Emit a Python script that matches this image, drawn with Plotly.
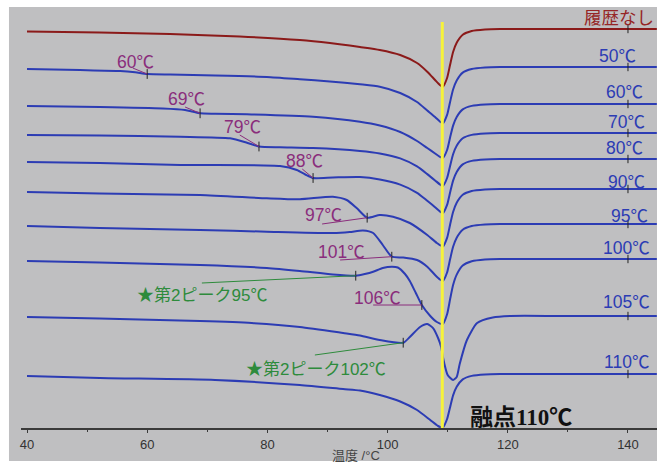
import plotly.graph_objects as go

# ---------------- data (temperature in °C, signal in arbitrary offset units; larger = lower on chart) ----------------
RISE_T = [109.9, 110.4, 110.9, 111.5, 112.5, 114.0, 116.2, 118.7, 128.7, 140.0, 144.8]

red_T = [40.0, 52.1, 63.8, 75.4, 85.4, 90.4, 93.7, 95.4, 98.7, 102.1, 104.9, 106.6, 107.9, 108.7, 109.2] + RISE_T
red_y = [31.5, 32.5, 34.0, 36.5, 40.0, 43.0, 45.5, 47.0, 50.0, 55.0, 63.0, 71.7, 80.0, 85.0, 86.7,
         78.0, 64.8, 52.0, 42.8, 34.8, 31.0, 29.5, 29.0, 29.0, 29.0, 29.0]

c50_T = [40.0, 48.8, 55.5, 58.0, 60.0, 63.8, 71.3, 79.9, 85.4, 90.4, 95.4, 98.7, 102.1, 104.9, 106.6, 107.9, 108.7, 109.2] + RISE_T
c50_y = [69.0, 70.0, 71.0, 72.3, 74.0, 74.6, 75.5, 77.0, 79.3, 81.5, 84.3, 86.7, 93.0, 102.0, 110.5, 117.0, 121.5, 123.3,
         114.9, 101.9, 89.5, 80.5, 72.6, 69.0, 67.5, 67.0, 67.0, 67.0, 67.0]

c60_T = [40.0, 52.1, 62.6, 66.3, 67.5, 68.8, 71.3, 76.6, 87.6, 95.4, 98.7, 102.1, 104.9, 106.6, 107.9, 108.7, 109.2] + RISE_T
c60_y = [106.0, 107.0, 108.5, 110.0, 111.5, 113.3, 113.7, 114.3, 116.7, 121.7, 125.5, 132.0, 141.0, 148.0, 153.5, 156.8, 158.0,
         150.0, 137.5, 125.6, 117.0, 109.4, 105.9, 104.4, 104.0, 104.0, 104.0, 104.0]

c70_T = [40.0, 52.1, 65.5, 73.8, 76.6, 78.6, 82.1, 87.6, 95.4, 98.7, 102.1, 104.9, 106.6, 107.9, 108.7, 109.2] + RISE_T
c70_y = [135.0, 135.5, 136.7, 138.3, 142.7, 146.5, 147.3, 148.0, 151.0, 153.5, 158.4, 166.4, 174.1, 180.4, 184.4, 186.0,
         178.0, 165.9, 154.2, 145.7, 138.3, 134.9, 133.4, 133.0, 133.0, 133.0, 133.0]

c80_T = [40.0, 52.1, 65.5, 82.1, 84.9, 86.3, 87.6, 90.9, 95.4, 98.7, 102.1, 104.9, 106.6, 107.9, 108.7, 109.2] + RISE_T
c80_y = [162.0, 163.0, 165.0, 166.0, 170.0, 174.5, 178.0, 177.5, 177.0, 179.5, 184.6, 192.8, 200.8, 207.2, 211.4, 213.0,
         204.9, 192.5, 180.6, 172.0, 164.4, 160.9, 159.4, 159.0, 159.0, 159.0, 159.0]

c90_T = [40.0, 52.1, 68.8, 79.9, 85.4, 90.9, 93.2, 94.9, 96.6, 98.7, 100.9, 103.7, 106.6, 108.2, 109.2] + RISE_T
c90_y = [192.0, 193.5, 195.0, 198.3, 199.3, 196.7, 200.0, 208.3, 217.7, 215.0, 216.7, 223.0, 235.0, 243.0, 246.5,
         237.9, 224.7, 212.0, 202.8, 194.8, 191.0, 189.5, 189.0, 189.0, 189.0, 189.0]

c95_T = [40.0, 52.1, 68.8, 79.9, 90.9, 93.7, 95.9, 97.6, 99.2, 100.7, 102.6, 104.9, 106.6, 107.9, 108.7, 109.2] + RISE_T
c95_y = [226.0, 228.0, 230.0, 231.7, 233.0, 232.0, 230.5, 233.0, 245.0, 256.7, 257.5, 260.0, 266.7, 275.0, 279.5, 281.0,
         272.5, 259.3, 246.8, 237.7, 229.7, 226.0, 224.5, 224.0, 224.0, 224.0, 224.0]

c100_T = [40.0, 52.1, 68.8, 79.9, 85.4, 90.9, 94.7, 96.2, 97.6, 99.2, 100.7, 101.7, 102.9, 103.7, 104.7, 105.7,
          107.1, 108.2, 109.2] + RISE_T
c100_y = [261.0, 262.5, 265.0, 268.0, 271.0, 274.5, 275.7, 274.0, 271.7, 268.0, 266.7, 267.5, 274.0, 281.0, 293.0, 305.0,
          316.0, 322.0, 324.0,
          314.3, 299.3, 285.0, 274.6, 265.5, 261.3, 259.5, 259.0, 259.0, 259.0, 259.0]

c105_T = [40.0, 52.1, 68.8, 77.4, 85.4, 92.6, 95.4, 98.7, 102.6, 103.7, 105.4, 106.6, 107.6, 108.4, 108.9, 109.2,
          109.5, 110.0, 110.9, 111.5, 112.0, 113.2, 114.9, 117.5, 120.4, 128.7, 140.0, 144.8]
c105_y = [317.0, 318.5, 321.0, 323.0, 327.0, 333.0, 335.5, 340.0, 342.7, 337.0, 327.0, 324.0, 328.3, 338.0, 346.7, 356.7,
          365.0, 375.0, 380.0, 377.0, 364.0, 340.0, 323.0, 317.5, 316.0, 316.0, 316.0, 316.0]

c110_T = [40.0, 52.1, 71.3, 85.4, 92.6, 95.4, 98.7, 102.1, 104.9, 107.1, 108.4, 109.2] + RISE_T
c110_y = [376.0, 378.0, 380.0, 385.0, 389.0, 390.5, 395.0, 401.5, 410.0, 420.0, 426.0, 427.5,
          419.0, 407.2, 395.4, 386.8, 379.4, 375.9, 374.4, 374.0, 374.0, 374.0, 374.0]

curve_names = ["履歴なし", "50℃", "60℃", "70℃", "80℃", "90℃", "95℃", "100℃", "105℃", "110℃"]
curve_T = [red_T, c50_T, c60_T, c70_T, c80_T, c90_T, c95_T, c100_T, c105_T, c110_T]
curve_y = [red_y, c50_y, c60_y, c70_y, c80_y, c90_y, c95_y, c100_y, c105_y, c110_y]
baseline_140 = [29, 67, 104, 133, 159, 189, 224, 259, 316, 374]

# right-hand curve labels (x, y)
right_lab_x = [138.5, 138.3, 139.5, 139.7, 139.5, 139.8, 140.3, 139.8, 139.8, 139.8]
right_lab_y = [18.0, 54.0, 90.7, 120.0, 146.7, 180.0, 214.0, 246.7, 300.7, 360.7]

# annealing-step markers and their labels
step_text = ["60℃", "69℃", "79℃", "88℃", "97℃", "101℃", "106℃"]
step_T = [60.0, 68.8, 78.6, 87.6, 96.6, 100.7, 105.7]
step_y = [74.0, 113.3, 146.5, 178.0, 217.7, 256.7, 305.0]
step_lab_x = [58.0, 66.6, 75.8, 86.1, 89.3, 92.4, 98.4]
step_lab_y = [60.0, 97.0, 125.0, 159.0, 213.0, 250.0, 296.0]
step_lead_x = [57.6, 66.3, 75.4, 85.8, 89.1, 92.1, 97.6]
step_lead_y = [68.0, 107.0, 135.0, 169.0, 224.0, 260.0, 305.0]

peak_text = ["★第2ピーク95℃", "★第2ピーク102℃"]
peak_T = [94.7, 102.6]
peak_y = [275.7, 342.7]
peak_lab_x = [69.1, 88.1]
peak_lab_y = [293.0, 367.0]
peak_lead_x = [69.1, 87.9]
peak_lead_y = [283.0, 355.0]

MELT_T = 109.1
X_TICKS = [40, 60, 80, 100, 120, 140]

# ---------------- styles ----------------
GRAY = "#bfbfc1"
BLUE = "#2c3cb4"
RED = "#8b1a1a"
RED_TXT = "#962626"
PURPLE = "#8a2d7c"
GREEN = "#2e8b3c"
TXT_FONT = "Liberation Sans, Arial, Noto Sans CJK JP, sans-serif"


def wide_deg(s):
    # render the ℃ sign with the CJK font so it keeps its full width, as in the original
    return s.replace("℃", "<span style='font-family:Noto Sans CJK JP'>℃</span>")


fig = go.Figure()

for i, (name, tx, ty) in enumerate(zip(curve_names, curve_T, curve_y)):
    fig.add_trace(go.Scatter(
        x=tx, y=ty, mode="lines", name=name,
        line=dict(color=RED if i == 0 else BLUE, width=2, shape="spline", smoothing=0.6),
        showlegend=False, hoverinfo="skip"))

# small cross ticks at 140 °C on each curve
fig.add_trace(go.Scatter(
    x=[140] * len(baseline_140), y=baseline_140, mode="markers",
    marker=dict(symbol="line-ns", size=6, line=dict(color="#222222", width=1)),
    showlegend=False, hoverinfo="skip"))

# step markers
fig.add_trace(go.Scatter(
    x=step_T + peak_T, y=step_y + peak_y, mode="markers",
    marker=dict(symbol="line-ns", size=7, line=dict(color="#222222", width=1)),
    showlegend=False, hoverinfo="skip"))

shapes = []
# gray panel behind everything (extends beyond the plot area)
shapes.append(dict(type="rect", xref="paper", yref="paper", x0=-0.0189, x1=1.0, y0=-0.0784, y1=1.0,
                   fillcolor=GRAY, line=dict(width=0), layer="below"))
# leader lines
for lx, ly, tx, ty in zip(step_lead_x, step_lead_y, step_T, step_y):
    shapes.append(dict(type="line", xref="x", yref="y", x0=lx, y0=ly, x1=tx, y1=ty,
                       line=dict(color=PURPLE, width=1)))
for lx, ly, tx, ty in zip(peak_lead_x, peak_lead_y, peak_T, peak_y):
    shapes.append(dict(type="line", xref="x", yref="y", x0=lx, y0=ly, x1=tx, y1=ty,
                       line=dict(color=GREEN, width=1)))
# melting point line
shapes.append(dict(type="line", xref="x", yref="y", x0=MELT_T, x1=MELT_T, y0=22, y1=428,
                   line=dict(color="#f6f23a", width=3), layer="above"))

annotations = []
for i, (t, x, y) in enumerate(zip(curve_names, right_lab_x, right_lab_y)):
    annotations.append(dict(x=x, y=y, xref="x", yref="y", text=wide_deg(t), showarrow=False,
                            font=dict(family=TXT_FONT, size=17.5, color=RED_TXT if i == 0 else BLUE)))
for t, x, y in zip(step_text, step_lab_x, step_lab_y):
    annotations.append(dict(x=x, y=y, xref="x", yref="y", text=wide_deg(t), showarrow=False,
                            font=dict(family=TXT_FONT, size=17.5, color=PURPLE)))
for t, x, y in zip(peak_text, peak_lab_x, peak_lab_y):
    annotations.append(dict(x=x, y=y, xref="x", yref="y", text=wide_deg(t), showarrow=False,
                            font=dict(family=TXT_FONT, size=17, color=GREEN)))
annotations.append(dict(x=122.2, y=417, xref="x", yref="y", text="<b>融点110℃</b>", showarrow=False,
                        font=dict(family="Liberation Serif, Noto Sans CJK JP, serif", size=23, color="#111111")))
annotations.append(dict(x=94.7, y=-0.0665, xref="x", yref="paper", text="温度 /°C", showarrow=False,
                        yanchor="middle",
                        font=dict(family=TXT_FONT, size=13, color="#444444")))

fig.update_layout(
    width=670, height=463,
    margin=dict(l=21, r=13, t=7, b=35),
    paper_bgcolor="white", plot_bgcolor=GRAY,
    shapes=shapes, annotations=annotations,
    xaxis=dict(range=[39.0, 144.83], tickvals=X_TICKS, showgrid=False, zeroline=False,
               showline=True, linecolor="#3a3a3a", linewidth=2,
               ticks="outside", ticklen=3, tickcolor="#3a3a3a",
               minor=dict(dtick=10, tick0=40, ticks="outside", ticklen=2, tickcolor="#3a3a3a"),
               tickfont=dict(family=TXT_FONT, size=13, color="#333333")),
    yaxis=dict(range=[428, 7], visible=False, showgrid=False, zeroline=False),
)

fig.write_html("out.html")
